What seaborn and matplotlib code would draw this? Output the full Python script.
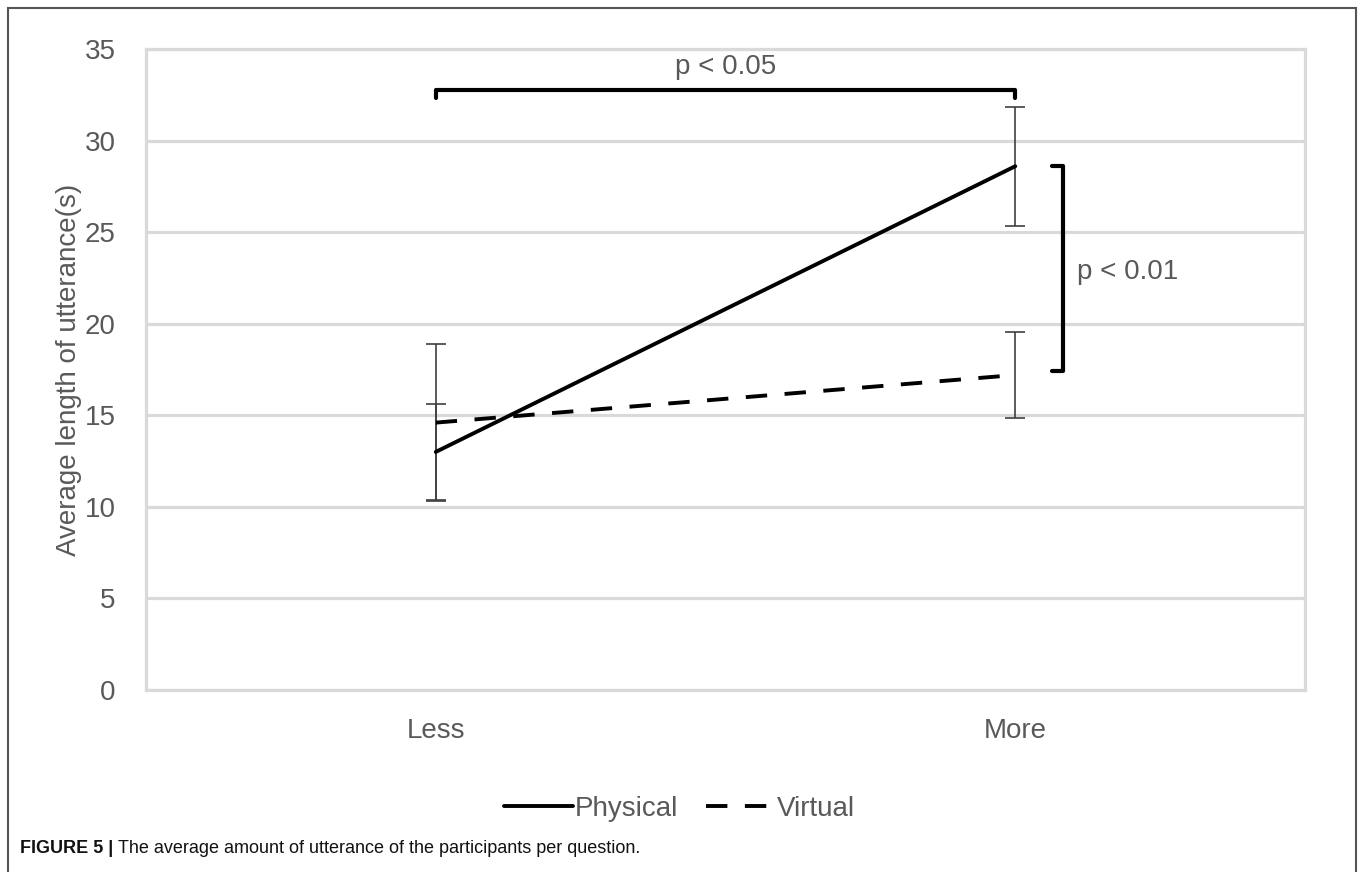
import matplotlib
matplotlib.use("Agg")
import matplotlib.pyplot as plt
import pandas as pd
import seaborn as sns
from matplotlib.patches import Rectangle

# values
conditions = ["Less", "More"]
physical_mean = [13.0, 28.6]
physical_err = [2.6, 3.25]
virtual_mean = [14.6, 17.2]
virtual_err = [4.3, 2.35]
y_ticks = [0, 5, 10, 15, 20, 25, 30, 35]

y_label = "Average length of utterance(s)"
caption_bold = "FIGURE 5 | "
caption_text = "The average amount of utterance of the participants per question."

GRID = "#d9d9d9"
TXT = "#595959"

df = pd.DataFrame({
    "condition": conditions * 2,
    "group": ["Physical"] * 2 + ["Virtual"] * 2,
    "mean": physical_mean + virtual_mean,
    "err": physical_err + virtual_err,
})

sns.set_style("white")
plt.rcParams["font.family"] = ["Liberation Sans", "DejaVu Sans"]

fig = plt.figure(figsize=(13.58, 8.72), dpi=100)
ax = fig.add_axes([0.1075, 0.2087, 0.8535, 0.7351])

# error bars first so the lines sit on top
for grp in ["Physical", "Virtual"]:
    sub = df[df["group"] == grp]
    ax.errorbar(sub["condition"], sub["mean"], yerr=sub["err"], fmt="none",
                ecolor="#404040", elinewidth=1.2, capsize=7, capthick=1.2, zorder=3)

sns.lineplot(data=df, x="condition", y="mean", style="group",
             dashes={"Physical": "", "Virtual": (5.5, 4.5)},
             color="black", linewidth=2.8, ax=ax, zorder=4, legend=True)

ax.set_xlim(-0.5, 1.5)
ax.set_ylim(0, 35)
ax.set_yticks(y_ticks)
ax.grid(axis="y", color=GRID, linewidth=2.3)
ax.set_axisbelow(True)
for sp in ax.spines.values():
    sp.set_color(GRID)
    sp.set_linewidth(2.3)
ax.tick_params(length=0, labelsize=20, labelcolor=TXT, pad=22)
ax.tick_params(axis="x", pad=20)
ax.set_xlabel("")
ax.set_ylabel(y_label, fontsize=20, color=TXT, labelpad=2)

# significance brackets
ax.plot([0, 0, 1, 1], [32.3, 32.75, 32.75, 32.3], color="black", lw=3,
        clip_on=False, zorder=5)
ax.text(0.5, 34.0, "p < 0.05", ha="center", va="center", fontsize=20, color=TXT)
ax.plot([1.064, 1.083, 1.083, 1.064], [28.6, 28.6, 17.4, 17.4], color="black",
        lw=3, clip_on=False, zorder=5)
ax.text(1.106, 22.8, "p < 0.01", ha="left", va="center", fontsize=20, color=TXT)

leg = ax.legend(loc="center", bbox_to_anchor=(0.46, -0.185), ncol=2, frameon=False,
                fontsize=20, handlelength=2.5, handletextpad=0.05, columnspacing=1.0,
                labelcolor=TXT)

# outer frame and caption
fig.patches.append(Rectangle((8 / 1358, -0.05), 1348 / 1358, 1.05 - 8 / 872,
                             transform=fig.transFigure, fill=False,
                             edgecolor="#555555", lw=1.5))
cap_font = ["Liberation Sans Narrow", "Liberation Sans", "DejaVu Sans"]
t1 = fig.text(20 / 1358, 1 - 848 / 872, caption_bold, fontsize=13, fontweight="bold",
              family=cap_font, color="#111111", va="center")
fig.text(0, 0, caption_text, fontsize=13, family=cap_font, color="#111111",
         va="center")
txt2 = fig.texts[-1]
fig.canvas.draw()
bb = t1.get_window_extent()
txt2.set_position((bb.x1 / fig.bbox.width, 1 - 848 / 872))

fig.savefig("out.png", dpi=100)
